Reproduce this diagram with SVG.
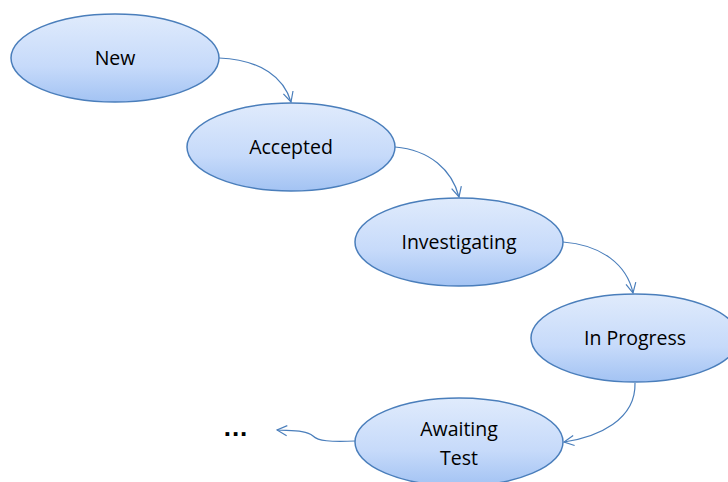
<svg xmlns="http://www.w3.org/2000/svg" width="728" height="482" viewBox="0 0 728 482">
<defs>
<linearGradient id="g" x1="0" y1="0" x2="0" y2="1">
<stop offset="0" stop-color="#e0ebfc"/>
<stop offset="0.6" stop-color="#c6dafa"/>
<stop offset="1" stop-color="#a3c3f3"/>
</linearGradient>
<marker id="arr" viewBox="0 0 12 12" refX="11" refY="6" markerWidth="12" markerHeight="12" markerUnits="userSpaceOnUse" orient="auto">
<polyline points="1,1 11,6 1,11" fill="none" stroke="#4a7ebb" stroke-width="1.2"/>
</marker>
<style>
.node ellipse{fill:url(#g);stroke:#4a7ebb;stroke-width:1.5}
.node text{font-family:"Open Sans","Liberation Sans",Arial,sans-serif;font-size:19.5px;fill:#000;text-anchor:middle}
.conn path{fill:none;stroke:#4a7ebb;stroke-width:1.2;marker-end:url(#arr)}
</style>
</defs>
<rect width="728" height="482" fill="#fff"/>
<g class="conn" id="connectors">
<path d="M219,58 C262,60 284,78 291,102"/>
<path d="M395,147 C430,150 452,170 459,197"/>
<path d="M563,242 C602,245 627,265 633,293"/>
<path d="M635,383 C636,420 598,437 564,442"/>
<path d="M355,441 C330,442 318,441 313,436 C306,430 292,431 277,430"/>
</g>
<g class="node" id="new"><ellipse cx="115" cy="58" rx="104" ry="44"/><text x="115" y="65">New</text></g>
<g class="node" id="accepted"><ellipse cx="291" cy="147" rx="104" ry="44"/><text x="291" y="154">Accepted</text></g>
<g class="node" id="investigating"><ellipse cx="459" cy="242" rx="104" ry="44"/><text x="459" y="249">Investigating</text></g>
<g class="node" id="inprogress"><ellipse cx="635" cy="338" rx="104" ry="44"/><text x="635" y="345">In Progress</text></g>
<g class="node" id="awaiting"><ellipse cx="459" cy="442" rx="104" ry="44"/><text x="459" y="436">Awaiting</text><text x="459" y="465">Test</text></g>
<text id="more" x="236" y="436" font-family="Liberation Sans,Arial,sans-serif" font-size="26" font-weight="bold" text-anchor="middle" letter-spacing="1">...</text>
</svg>
